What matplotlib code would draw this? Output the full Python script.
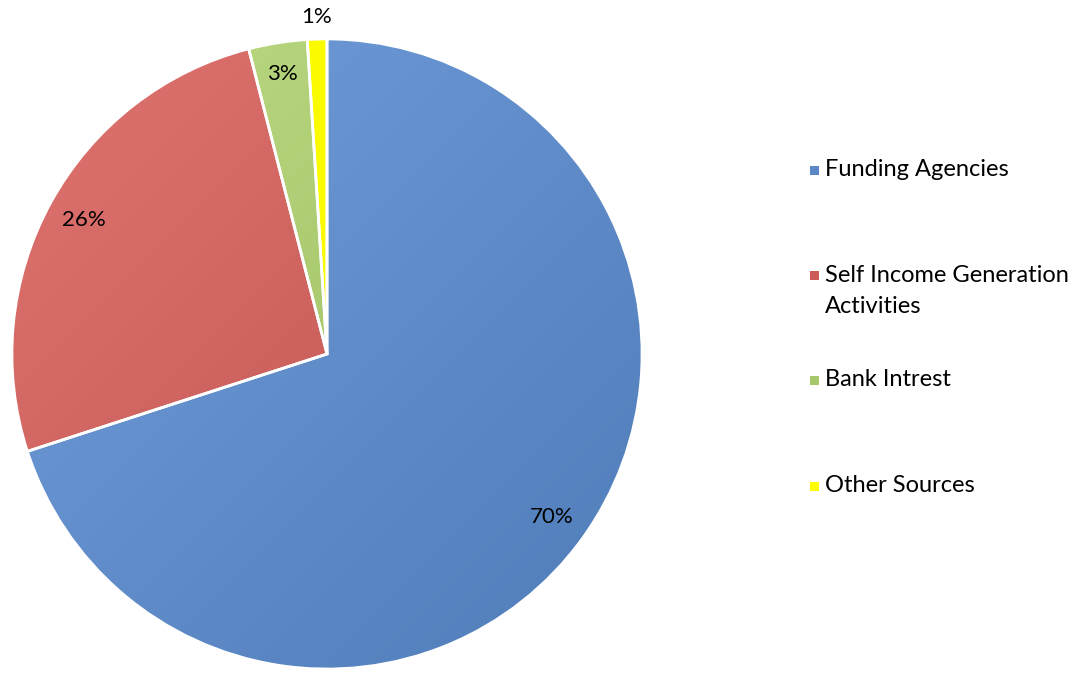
import numpy as np
import matplotlib
matplotlib.use("Agg")
import matplotlib.pyplot as plt
from matplotlib.colors import LinearSegmentedColormap
from matplotlib.patches import Rectangle

plt.rcParams['font.family'] = ['Lato', 'DejaVu Sans']

sources = ['Funding Agencies', 'Self Income Generation\nActivities', 'Bank Intrest', 'Other Sources']
shares = [70, 26, 3, 1]
# light (top-left) -> dark (bottom-right) shade for each slice
light = ['#729ddc', '#df7370', '#bcdb84', '#ffff00']
dark = ['#4f7db8', '#b9504c', '#98b85a', '#f2f200']
swatch = ['#5b87c6', '#cc5c58', '#a6c76a', '#ffff00']

fig = plt.figure(figsize=(10.86, 6.77), dpi=100)
ax = fig.add_axes([11 / 1086, 7 / 677, 632 / 1086, 632 / 677])

wedges, texts, autotexts = ax.pie(
    shares, startangle=90, counterclock=False, radius=1,
    autopct='%1.0f%%', pctdistance=0.88, labeldistance=None,
    colors=dark, wedgeprops=dict(edgecolor='white', linewidth=2),
    textprops=dict(fontsize=16, color='black'))

# diagonal gradient clipped into each slice
yy, xx = np.mgrid[1:-1:200j, -1:1:200j]
grad = (xx - yy + 2) / 4
for w, lo, hi in zip(wedges, light, dark):
    cmap = LinearSegmentedColormap.from_list('g', [lo, hi])
    im = ax.imshow(grad, extent=(-1, 1, -1, 1), cmap=cmap, origin='upper',
                   zorder=0.5, interpolation='bilinear')
    im.set_clip_path(w)
    w.set_facecolor('none')
    w.set_zorder(1)


def mid_angle(w):
    return np.deg2rad((w.theta1 + w.theta2) / 2)


# the tiny slice gets its label outside the pie
a = mid_angle(wedges[-1])
autotexts[-1].set_position((1.07 * np.cos(a), 1.07 * np.sin(a)))
a = mid_angle(wedges[-2])
autotexts[-2].set_position((0.9 * np.cos(a), 0.9 * np.sin(a)))

ax.set_xlim(-1.003, 1.003)
ax.set_ylim(-1.003, 1.003)
ax.set_aspect('equal')
ax.axis('off')

# legend drawn by hand to get Excel-like spacing
leg_y = [170, 291, 380, 486]
sq_y = [170, 275, 380, 486]
for name, col, y, sy in zip(sources, swatch, leg_y, sq_y):
    syf = 1 - sy / 677
    fig.patches.append(Rectangle((810 / 1086, syf - 4.5 / 677), 9 / 1086, 9 / 677,
                                 transform=fig.transFigure, facecolor=col, edgecolor='none'))
    fig.text(825 / 1086, 1 - y / 677, name, fontsize=17, va='center',
             ha='left', linespacing=1.55)

fig.savefig('out.png', dpi=100)
